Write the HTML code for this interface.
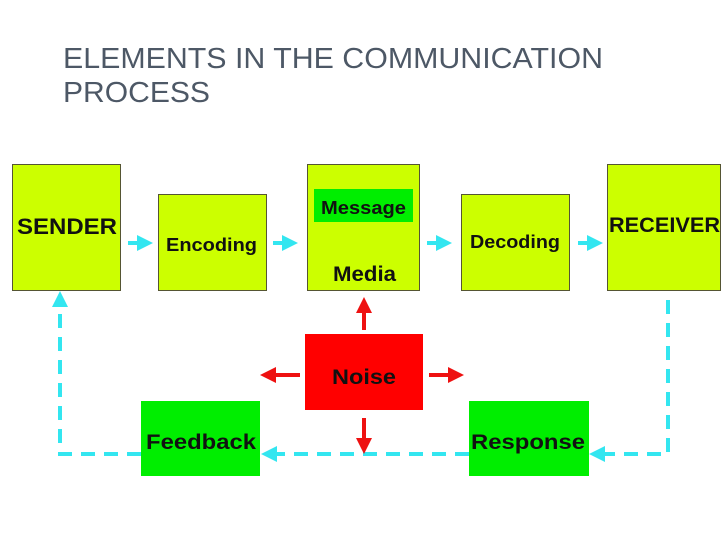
<!DOCTYPE html>
<html><head><meta charset="utf-8"><style>
html,body{margin:0;padding:0;background:#fff;width:728px;height:546px;overflow:hidden}
</style></head><body>
<svg width="728" height="546" viewBox="0 0 728 546" xmlns="http://www.w3.org/2000/svg" font-family="Liberation Sans, Arial, sans-serif">
<defs>
<marker id="c" markerWidth="4" markerHeight="4" refX="2" refY="2" orient="auto" markerUnits="strokeWidth"><path d="M0,0 L4,2 L0,4 z" fill="#33e6f0"/></marker>
<marker id="r" markerWidth="4" markerHeight="4" refX="2" refY="2" orient="auto" markerUnits="strokeWidth"><path d="M0,0 L4,2 L0,4 z" fill="#ee1111"/></marker>
</defs>
<text x="63" y="68" font-size="29" fill="#4d5866" textLength="540" lengthAdjust="spacingAndGlyphs">ELEMENTS IN THE COMMUNICATION</text>
<text x="63" y="102" font-size="29" fill="#4d5866" textLength="147" lengthAdjust="spacingAndGlyphs">PROCESS</text>
<g fill="#ccff00" stroke="#555533" stroke-width="1">
<rect x="12.5" y="164.5" width="108" height="126"/>
<rect x="158.5" y="194.5" width="108" height="96"/>
<rect x="307.5" y="164.5" width="112" height="126"/>
<rect x="461.5" y="194.5" width="108" height="96"/>
<rect x="607.5" y="164.5" width="113" height="126"/>
</g>
<rect x="314" y="189" width="99" height="33" fill="#00ee00"/>
<rect x="305" y="334" width="118" height="76" fill="#ff0000"/>
<rect x="141" y="401" width="119" height="75" fill="#00ee00"/>
<rect x="469" y="401" width="120" height="75" fill="#00ee00"/>
<g font-weight="bold" fill="#111">
<text x="17" y="234" font-size="22" textLength="100" lengthAdjust="spacingAndGlyphs">SENDER</text>
<text x="166" y="251" font-size="18" textLength="91" lengthAdjust="spacingAndGlyphs">Encoding</text>
<text x="321" y="214" font-size="18" textLength="85" lengthAdjust="spacingAndGlyphs">Message</text>
<text x="333" y="281" font-size="21" textLength="63" lengthAdjust="spacingAndGlyphs">Media</text>
<text x="470" y="248" font-size="18" textLength="90" lengthAdjust="spacingAndGlyphs">Decoding</text>
<text x="609" y="232" font-size="21" textLength="111" lengthAdjust="spacingAndGlyphs">RECEIVER</text>
<text x="332" y="384" font-size="21" textLength="64" lengthAdjust="spacingAndGlyphs">Noise</text>
<text x="146" y="449" font-size="21" textLength="110" lengthAdjust="spacingAndGlyphs">Feedback</text>
<text x="471" y="449" font-size="21" textLength="114" lengthAdjust="spacingAndGlyphs">Response</text>
</g>
<g stroke="#33e6f0" stroke-width="4">
<line x1="128" y1="243" x2="145" y2="243" marker-end="url(#c)"/>
<line x1="273" y1="243" x2="290" y2="243" marker-end="url(#c)"/>
<line x1="427" y1="243" x2="444" y2="243" marker-end="url(#c)"/>
<line x1="578" y1="243" x2="595" y2="243" marker-end="url(#c)"/>
</g>
<g stroke="#33e6f0" stroke-width="4" fill="none" stroke-dasharray="14,9">
<polyline points="668,300 668,454 600,454"/>
<polyline points="469,454 270,454"/>
<polyline points="141,454 60,454 60,305"/>
</g>
<g stroke="#33e6f0" stroke-width="4">
<line x1="598" y1="454" x2="597" y2="454" marker-end="url(#c)"/>
<line x1="270" y1="454" x2="269" y2="454" marker-end="url(#c)"/>
<line x1="60" y1="300" x2="60" y2="299" marker-end="url(#c)"/>
</g>
<g stroke="#ee1111" stroke-width="4">
<line x1="364" y1="330" x2="364" y2="305" marker-end="url(#r)"/>
<line x1="364" y1="418" x2="364" y2="446" marker-end="url(#r)"/>
<line x1="300" y1="375" x2="268" y2="375" marker-end="url(#r)"/>
<line x1="429" y1="375" x2="456" y2="375" marker-end="url(#r)"/>
</g>
</svg>
</body></html>
